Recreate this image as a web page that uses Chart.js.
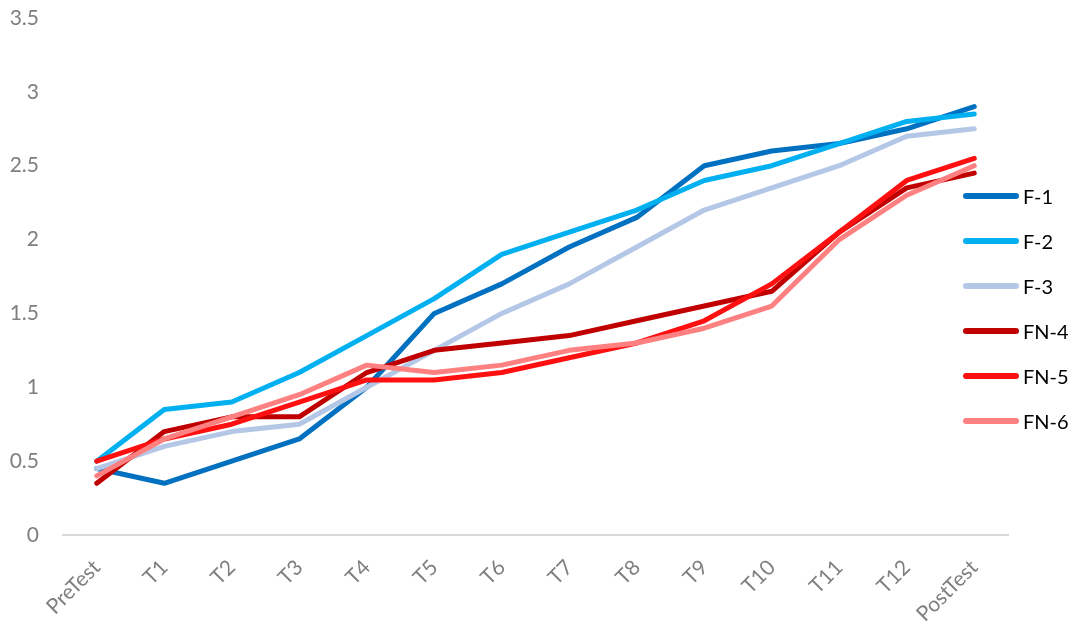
<!DOCTYPE html>
<html lang="en">
<head>
  <meta charset="UTF-8">
  <title>F / FN scores from PreTest to PostTest</title>
  <script src="https://cdn.jsdelivr.net/npm/chart.js"></script>
  <style>
    body { margin: 0; background: #ffffff; font-family: Lato, sans-serif; }
    .wrap { position: relative; width: 1073px; height: 627px; }
    canvas { display: block; }
    .legend { position: absolute; left: 963px; top: 0; }
    .legend-item { position: absolute; left: 0; display: flex; align-items: center; white-space: nowrap; }
    .legend-line { width: 56px; height: 6px; border-radius: 3px; margin-right: 4px; }
    .legend-text { font-size: 20px; color: #000000; }
  </style>
</head>
<body>
  <div class="wrap">
    <canvas id="scoreChart" width="1073" height="627"></canvas>
    <div class="legend" id="legend"></div>
  </div>

  <script>
    const labels = ['PreTest', 'T1', 'T2', 'T3', 'T4', 'T5', 'T6', 'T7', 'T8', 'T9', 'T10', 'T11', 'T12', 'PostTest'];

    const seriesNames = ['F-1', 'F-2', 'F-3', 'FN-4', 'FN-5', 'FN-6'];

    const f1  = [0.45, 0.35, 0.5, 0.65, 1.0, 1.5, 1.7, 1.95, 2.15, 2.5, 2.6, 2.65, 2.75, 2.9];
    const f2  = [0.5, 0.85, 0.9, 1.1, 1.35, 1.6, 1.9, 2.05, 2.2, 2.4, 2.5, 2.65, 2.8, 2.85];
    const f3  = [0.45, 0.6, 0.7, 0.75, 1.0, 1.25, 1.5, 1.7, 1.95, 2.2, 2.35, 2.5, 2.7, 2.75];
    const fn4 = [0.35, 0.7, 0.8, 0.8, 1.1, 1.25, 1.3, 1.35, 1.45, 1.55, 1.65, 2.05, 2.35, 2.45];
    const fn5 = [0.5, 0.65, 0.75, 0.9, 1.05, 1.05, 1.1, 1.2, 1.3, 1.45, 1.7, 2.05, 2.4, 2.55];
    const fn6 = [0.4, 0.65, 0.8, 0.95, 1.15, 1.1, 1.15, 1.25, 1.3, 1.4, 1.55, 2.0, 2.3, 2.5];

    const yTicks = [0, 0.5, 1, 1.5, 2, 2.5, 3, 3.5];

    const seriesValues = [f1, f2, f3, fn4, fn5, fn6];
    const seriesColors = ['#0070C0', '#00B0F0', '#B4C7E7', '#C00000', '#FF1010', '#FF8080'];

    const ctx = document.getElementById('scoreChart').getContext('2d');
    const chart = new Chart(ctx, {
      type: 'line',
      data: {
        labels: labels,
        datasets: seriesNames.map((name, i) => ({
          label: name,
          data: seriesValues[i],
          borderColor: seriesColors[i],
          backgroundColor: seriesColors[i],
          borderWidth: 5,
          borderJoinStyle: 'round',
          borderCapStyle: 'round',
          pointRadius: 0,
          fill: false,
          tension: 0,
          order: seriesNames.length - i // later series on top, like the original
        }))
      },
      options: {
        responsive: false,
        animation: false,
        layout: { padding: { top: 18, right: 65, bottom: 0, left: 0 } },
        plugins: {
          legend: { display: false },
          tooltip: { enabled: false }
        },
        scales: {
          y: {
            min: 0,
            max: 3.5,
            afterBuildTicks: axis => { axis.ticks = yTicks.map(v => ({ value: v })); },
            afterFit: axis => { axis.width = 63; },
            // invisible tick marks push the labels left without padding the top
            grid: { display: true, drawOnChartArea: false, drawTicks: true, tickLength: 22, color: 'rgba(0,0,0,0)' },
            border: { display: false },
            ticks: {
              padding: 2,
              color: '#7F7F7F',
              font: { family: 'Lato', size: 21 },
              callback: v => String(v)
            }
          },
          x: {
            offset: true,
            afterFit: axis => { axis.height = 92; },
            grid: { display: false },
            border: { color: '#D9D9D9', width: 2 },
            ticks: {
              padding: 12,
              minRotation: 45,
              maxRotation: 45,
              color: '#7F7F7F',
              font: { family: 'Lato', size: 21 }
            }
          }
        }
      }
    });

    // legend drawn beside the plot, overlapping its right edge as in the original
    const legend = document.getElementById('legend');
    seriesNames.forEach((name, i) => {
      const item = document.createElement('div');
      item.className = 'legend-item';
      item.style.top = (184 + i * 45) + 'px';
      item.innerHTML = `<span class="legend-line" style="background:${seriesColors[i]}"></span><span class="legend-text">${name}</span>`;
      legend.appendChild(item);
    });
  </script>
</body>
</html>
